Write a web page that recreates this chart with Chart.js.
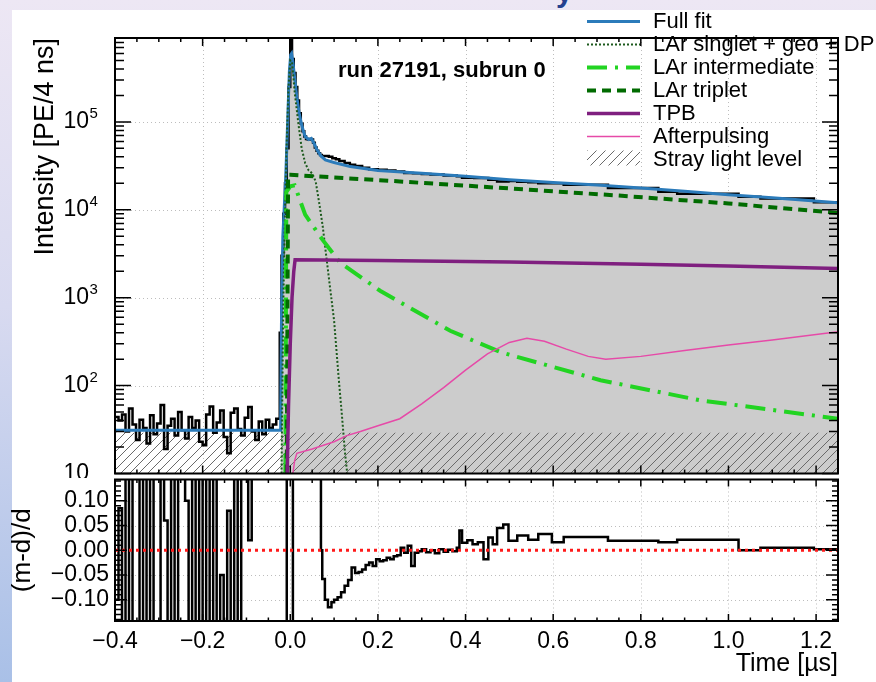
<!DOCTYPE html>
<html>
<head>
<meta charset="utf-8">
<script src="https://cdn.jsdelivr.net/npm/chart.js@4.4.1/dist/chart.umd.min.js"></script>
<style>
  body { margin: 0; }
  #page { position: relative; width: 876px; height: 682px; overflow: hidden;
    background: linear-gradient(180deg, #ede7f4 0%, #d8daf0 45%, #a9c0e7 100%); }
  #slideTitle { position: absolute; left: 556px; top: -25px; font: bold 30px "Liberation Sans", sans-serif; color: #25418f; }
  #sheet { position: absolute; left: 12px; top: 10px; right: 0; bottom: 0; background: #fff; }
  canvas { position: absolute; left: 0; }
</style>
</head>
<body>
<div id="page">
  <div id="slideTitle">y</div>
  <div id="sheet"></div>
  <canvas id="mainChart" width="876" height="478" style="top:0"></canvas>
  <canvas id="ratioChart" width="876" height="204" style="top:478px"></canvas>
</div>
<script>
// time in microseconds, intensity in PE / 4 ns

// pre-trigger data, uniform bins
const noiseStart = -0.4;
const noiseBin = 0.008;
const noiseCounts = [44, 40, 47, 30, 55, 36, 24, 41, 33, 22, 46, 28, 37, 60, 19, 35, 42, 27, 50, 31, 25, 44, 33, 40,
  23, 21, 47, 58, 29, 38, 52, 26, 17, 49, 55, 32, 27, 43, 57, 30, 24, 39, 28, 41, 33, 36, 42];

// data after the trigger (bin left edges)
const peakTimes = [-0.024, -0.02, -0.016, -0.012, -0.008, -0.004, 0.0, 0.004, 0.008, 0.012, 0.016, 0.02, 0.024, 0.028,
  0.032, 0.036, 0.04, 0.044, 0.048, 0.052, 0.056, 0.06, 0.064, 0.068, 0.072, 0.08, 0.088, 0.096, 0.104, 0.112, 0.124,
  0.136, 0.148, 0.164, 0.18, 0.2, 0.22, 0.24, 0.26, 0.28, 0.3, 0.32, 0.35, 0.38, 0.392, 0.42, 0.441, 0.452, 0.472,
  0.498, 0.518, 0.543, 0.566, 0.597, 0.624, 0.725, 0.84, 0.883, 1.023, 1.073, 1.195];
const peakCounts = [400, 3000, 9000, 2e4, 5e4, 2.5e5, 1e6, 5.2e5, 3.6e5, 2.5e5, 1.75e5, 1.25e5, 9.5e4, 7.8e4,
  6.8e4, 6.4e4, 6.3e4, 6.4e4, 6.3e4, 5.8e4, 5.1e4, 4.7e4, 4.4e4, 4.2e4, 4.1e4, 4.1e4, 4.0e4, 3.85e4, 3.75e4, 3.6e4, 3.4e4,
  3.25e4, 3.15e4, 3.0e4, 2.9e4, 2.85e4, 2.8e4, 2.72e4, 2.62e4, 2.6e4, 2.55e4, 2.52e4, 2.45e4, 2.4e4, 2.32e4, 2.3e4,
  2.3e4, 2.2e4, 2.1e4, 2.12e4, 2.09e4, 2.06e4, 2.0e4, 2.0e4, 1.93e4, 1.77e4, 1.6e4, 1.52e4, 1.41e4, 1.34e4, 1.22e4];
const timeEnd = 1.25;

const fitTimes = [-0.4, -0.022, -0.02, -0.017, -0.014, -0.011, -0.008, -0.005, -0.002, 0.001, 0.003, 0.006, 0.009,
  0.015, 0.021, 0.027, 0.034, 0.042, 0.048, 0.055, 0.061, 0.07, 0.08, 0.1, 0.137, 0.2, 0.3, 0.4, 0.5, 0.6, 0.7, 0.8,
  0.9, 1.0, 1.1, 1.25];
const fitValues = [31, 31, 600, 5000, 1e4, 2e4, 5e4, 1.4e5, 3.8e5, 5.8e5, 6e5, 4.8e5, 3.5e5,
  1.9e5, 1.2e5, 8.8e4, 6.8e4, 6.3e4, 6.5e4, 5.6e4, 4.8e4, 4.1e4, 3.7e4, 3.45e4, 3.1e4, 2.8e4, 2.6e4, 2.4e4, 2.2e4,
  2.05e4, 1.92e4, 1.77e4, 1.62e4, 1.48e4, 1.37e4, 1.2e4];

const singletTimes = [-0.02, -0.016, -0.012, -0.008, -0.004, 0.0, 0.004, 0.01, 0.018, 0.026, 0.034, 0.042, 0.05,
  0.058, 0.066, 0.074, 0.082, 0.09, 0.1, 0.11, 0.118, 0.125, 0.13];
const singletValues = [10, 800, 1e4, 6e4, 2.5e5, 5e5, 4.8e5, 2.2e5, 1e5, 5e4, 3.4e4, 2.8e4, 2.6e4,
  2.1e4, 1.2e4, 6.5e3, 3e3, 1.4e3, 550, 130, 45, 17, 10];

const interTimes = [-0.011, -0.009, 0.0, 0.01, 0.034, 0.073, 0.114, 0.205, 0.365, 0.48, 0.708, 0.936, 1.25];
const interValues = [10, 1.6e4, 1.85e4, 1.9e4, 8.8e3, 4.6e3, 2.5e3, 1.2e3, 420, 240, 115, 68, 42];

const tripletTimes = [-0.008, -0.005, 0.0, 0.25, 0.5, 0.75, 1.0, 1.25];
const tripletValues = [10, 2.5e4, 2.5e4, 2.1e4, 1.75e4, 1.45e4, 1.18e4, 9.2e3];

const tpbTimes = [-0.007, -0.004, 0.0, 0.004, 0.008, 0.011, 0.2, 0.5, 0.8, 1.0, 1.25];
const tpbValues = [10, 60, 300, 1000, 2000, 2.7e3, 2.65e3, 2.55e3, 2.4e3, 2.3e3, 2.15e3];

const apTimes = [0.006, 0.01, 0.015, 0.05, 0.1, 0.129, 0.16, 0.2, 0.25, 0.3, 0.35, 0.4, 0.45, 0.5, 0.54, 0.58,
  0.63, 0.68, 0.72, 0.8, 0.9, 1.0, 1.1, 1.25];
const apValues = [10, 14, 17, 19, 23, 27, 30, 35, 42, 62, 95, 150, 230, 310, 345, 320,
  260, 215, 200, 215, 250, 290, 330, 410];

const strayLevel = 29;

// residuals (m-d)/d
const residNoise = [-0.1, 0.085, -0.3, 0.3, -0.3, 0.3, 0.3, -0.3, 0.3, -0.3, 0.3, -0.3, -0.3, 0.3, 0.06, -0.3,
  0.3, -0.3, 0.3, 0.3, 0.1, -0.3, 0.3, -0.3, 0.3, -0.3, 0.3, -0.3, 0.3, -0.3, -0.05, -0.3, 0.08, -0.3, 0.3, -0.3,
  0.3, 0.3, 0.02, 0.3];
const residTimes = [-0.08, -0.008, 0.006, 0.07, 0.073, 0.079, 0.086, 0.094, 0.1, 0.108, 0.116, 0.124, 0.132, 0.14,
  0.148, 0.156, 0.164, 0.172, 0.18, 0.188, 0.196, 0.204, 0.212, 0.22, 0.228, 0.236, 0.244, 0.252, 0.26, 0.268, 0.276,
  0.284, 0.292, 0.3, 0.31, 0.32, 0.33, 0.34, 0.35, 0.36, 0.37, 0.38, 0.386, 0.392, 0.404, 0.416, 0.428, 0.441, 0.452,
  0.462, 0.472, 0.486, 0.498, 0.518, 0.543, 0.566, 0.597, 0.624, 0.725, 0.84, 0.883, 1.023, 1.073, 1.195];
const residValues = [0.3, -0.3, 0.3, 0.0, -0.058, -0.1, -0.115, -0.105, -0.1, -0.095, -0.085, -0.072, -0.06, -0.035,
  -0.046, -0.044, -0.039, -0.03, -0.025, -0.032, -0.018, -0.022, -0.02, -0.015, -0.018, -0.012, -0.01, 0.005, -0.005,
  0.009, -0.032, -0.005, -0.002, 0.002, -0.004, 0.0, -0.006, 0.002, -0.003, 0.001, -0.002, 0.005, 0.04, 0.015, 0.02,
  0.012, 0.016, -0.018, 0.026, 0.012, 0.045, 0.052, 0.019, 0.03, 0.021, 0.033, 0.016, 0.027, 0.019, 0.016, 0.021,
  0.0, 0.005, 0.002];

const xTicks = [-0.4, -0.2, 0, 0.2, 0.4, 0.6, 0.8, 1.0, 1.2];
const xTickLabels = ['\u22120.4', '\u22120.2', '0.0', '0.2', '0.4', '0.6', '0.8', '1.0', '1.2'];
const yTicks = [10, 100, 1000, 10000, 100000];
const yTickExponents = ['', '2', '3', '4', '5'];
const rTicks = [-0.1, -0.05, 0, 0.05, 0.1];
const rTickLabels = ['\u22120.10', '\u22120.05', '0.00', '0.05', '0.10'];

const F = '"Liberation Sans", Arial, Helvetica, sans-serif';
Chart.defaults.font.family = F;
Chart.defaults.color = '#000';

const pts = (xs, ys) => xs.map((x, i) => ({x: x, y: ys[i]}));
const hist = (edges, vals, end) => pts(edges, vals).concat([{x: end, y: vals[vals.length - 1]}]);

const noiseEdges = noiseCounts.map((v, i) => noiseStart + i * noiseBin);
const residEdges = residNoise.map((v, i) => noiseStart + i * noiseBin);
const dataHist = hist(noiseEdges.concat(peakTimes), noiseCounts.concat(peakCounts), timeEnd);
const residHist = hist(residEdges.concat(residTimes), residNoise.concat(residValues), timeEnd);
const fitPts = pts(fitTimes, fitValues);
const grayPts = fitPts.filter(p => p.x >= -0.022);

// minor ticks
const xMinor = [];
for (let i = 0; i <= 33; i++) xMinor.push(-0.4 + i * 0.05);
const yMinor = [];
yTicks.forEach(d => { for (let k = 2; k <= 9; k++) if (d * k < 9e5) yMinor.push(d * k); });
const rMinor = [];
for (let i = -14; i <= 14; i++) rMinor.push(i / 100);

function hatchPattern() {
  const c = document.createElement('canvas');
  c.width = 9; c.height = 9;
  const g = c.getContext('2d');
  g.strokeStyle = '#6a6a6a';
  g.lineWidth = 1;
  g.beginPath();
  g.moveTo(0, 9); g.lineTo(9, 0);
  g.moveTo(-1, 1); g.lineTo(1, -1);
  g.moveTo(8, 10); g.lineTo(10, 8);
  g.stroke();
  return g.createPattern(c, 'repeat');
}
const hatch = hatchPattern();

// keep the plot frame exactly where the layout padding puts it
const fixWidth = w => s => { s.width = w; s.paddingTop = 0; s.paddingBottom = 0; };
const fixHeight = h => s => { s.height = h; s.paddingLeft = 0; s.paddingRight = 0; };

// ROOT-like frame: dotted grid, inward ticks on all sides
const rootFrame = {
  id: 'rootFrame',
  beforeDatasetsDraw(chart, args, o) {
    const {ctx, chartArea: a} = chart;
    const x = chart.scales.x, y = chart.scales.y;
    ctx.save();
    ctx.strokeStyle = '#bdbdbd';
    ctx.lineWidth = 1;
    ctx.setLineDash([1, 3]);
    ctx.beginPath();
    o.xGrid.forEach(v => { const p = Math.round(x.getPixelForValue(v)) + 0.5; ctx.moveTo(p, a.top); ctx.lineTo(p, a.bottom); });
    o.yGrid.forEach(v => { const p = Math.round(y.getPixelForValue(v)) + 0.5; ctx.moveTo(a.left, p); ctx.lineTo(a.right, p); });
    ctx.stroke();
    ctx.restore();
  },
  afterDatasetsDraw(chart, args, o) {
    const {ctx, chartArea: a} = chart;
    const x = chart.scales.x, y = chart.scales.y;
    ctx.save();
    ctx.strokeStyle = '#000';
    ctx.lineWidth = 1.5;
    ctx.beginPath();
    const xt = (list, len) => list.forEach(v => {
      const p = x.getPixelForValue(v);
      ctx.moveTo(p, a.top); ctx.lineTo(p, a.top + len);
      ctx.moveTo(p, a.bottom); ctx.lineTo(p, a.bottom - len);
    });
    const yt = (list, len) => list.forEach(v => {
      const p = y.getPixelForValue(v);
      ctx.moveTo(a.left, p); ctx.lineTo(a.left + len, p);
      ctx.moveTo(a.right, p); ctx.lineTo(a.right - len, p);
    });
    xt(xTicks, o.xMajorLen); xt(xMinor, o.xMinorLen);
    yt(o.yMajor, o.yMajorLen); yt(o.yMinor, o.yMinorLen);
    ctx.stroke();
    ctx.lineWidth = 2;
    ctx.strokeRect(a.left, a.top, a.right - a.left, a.bottom - a.top);
    ctx.restore();
  }
};

// legend, run label and 10^n labels, drawn over the top pad
const rootLegend = {
  id: 'rootLegend',
  afterDraw(chart, args, o) {
    const ctx = chart.ctx;
    const y = chart.scales.y;
    ctx.save();
    ctx.fillStyle = '#000';
    ctx.textBaseline = 'middle';
    yTicks.forEach((v, i) => {
      const p = y.getPixelForValue(v);
      ctx.font = '23px ' + F;
      ctx.textAlign = 'right';
      ctx.fillText('10', 89, p);
      if (yTickExponents[i]) {
        ctx.font = '15px ' + F;
        ctx.textAlign = 'left';
        ctx.fillText(yTickExponents[i], 89.5, p - 8);
      }
    });
    ctx.textAlign = 'left';
    ctx.textBaseline = 'alphabetic';
    ctx.font = 'bold 22px ' + F;
    ctx.fillText('run 27191, subrun 0', 338, 77);
    ctx.font = '22px ' + F;
    o.items.forEach((label, i) => {
      const ds = chart.data.datasets.find(d => d.label === label);
      const yc = 21.5 + i * 23;
      if (ds.fill) {
        ctx.fillStyle = ds.backgroundColor;
        ctx.fillRect(587, yc - 9, 53, 15);
      } else {
        ctx.beginPath();
        ctx.strokeStyle = ds.borderColor;
        ctx.lineWidth = ds.borderWidth;
        ctx.setLineDash(ds.borderDash || []);
        ctx.moveTo(587, yc); ctx.lineTo(640, yc);
        ctx.stroke();
        ctx.setLineDash([]);
      }
      ctx.fillStyle = '#000';
      ctx.fillText(label, 653, yc + 6);
    });
    ctx.restore();
  }
};

new Chart(document.getElementById('mainChart'), {
  type: 'line',
  data: {
    datasets: [
      {label: 'Afterpulsing', data: pts(apTimes, apValues), borderColor: '#e64aa8', borderWidth: 1.5, order: 1},
      {label: 'TPB', data: pts(tpbTimes, tpbValues), borderColor: '#7f1f7f', borderWidth: 3.5, order: 2},
      {label: 'LAr triplet', data: pts(tripletTimes, tripletValues), borderColor: '#006b00', borderWidth: 4,
        borderDash: [9, 6], order: 3},
      {label: 'LAr intermediate', data: pts(interTimes, interValues), borderColor: '#22d422', borderWidth: 4,
        borderDash: [20, 8, 3, 8], order: 4},
      {label: 'LAr singlet + geo + DP', data: pts(singletTimes, singletValues), borderColor: '#1d5a1d',
        borderWidth: 2, borderDash: [2, 2], order: 5},
      {label: 'Full fit', data: fitPts, borderColor: '#2b7bba', borderWidth: 3, order: 6},
      {label: 'Data', data: dataHist, borderColor: '#000', borderWidth: 2.5, stepped: true, order: 7},
      {label: 'Stray light level', data: pts([-0.4, 1.25], [strayLevel, strayLevel]), borderWidth: 0,
        borderColor: 'rgba(0,0,0,0)', backgroundColor: hatch, fill: 'start', order: 8},
      {label: 'Fit area', data: grayPts, borderWidth: 0, borderColor: 'rgba(0,0,0,0)',
        backgroundColor: '#cccccc', fill: 'start', order: 9}
    ]
  },
  options: {
    responsive: false,
    animation: false,
    devicePixelRatio: 1,
    events: [],
    layout: {padding: {left: 0, right: 38, top: 38, bottom: 4.5}},
    elements: {point: {radius: 0}, line: {tension: 0}},
    scales: {
      x: {type: 'linear', min: -0.4, max: 1.25, display: false},
      y: {
        type: 'logarithmic', min: 10, max: 9e5, position: 'left',
        afterFit: fixWidth(115),
        afterBuildTicks: s => { s.ticks = yTicks.map(v => ({value: v})); },
        grid: {display: false, drawTicks: false},
        border: {display: false},
        ticks: {display: false},
        title: {display: true, text: 'Intensity [PE/4 ns]', align: 'end', font: {size: 27},
          padding: {top: 29.8, bottom: 0}}
      }
    },
    plugins: {
      legend: {display: false},
      tooltip: {enabled: false},
      rootFrame: {xGrid: xTicks.slice(1), yGrid: yTicks.slice(1), yMajor: yTicks, yMinor: yMinor,
        xMajorLen: 8, xMinorLen: 4, yMajorLen: 16, yMinorLen: 9},
      rootLegend: {items: ['Full fit', 'LAr singlet + geo + DP', 'LAr intermediate', 'LAr triplet', 'TPB',
        'Afterpulsing', 'Stray light level']}
    }
  },
  plugins: [rootFrame, rootLegend]
});

new Chart(document.getElementById('ratioChart'), {
  type: 'line',
  data: {
    datasets: [
      {label: 'zero', data: pts([-0.4, 1.25], [0, 0]), borderColor: '#ff1a1a', borderWidth: 3,
        borderDash: [3, 4], order: 1},
      {label: '(m-d)/d', data: residHist, borderColor: '#000', borderWidth: 2.5, stepped: true, order: 2}
    ]
  },
  options: {
    responsive: false,
    animation: false,
    devicePixelRatio: 1,
    events: [],
    layout: {padding: {left: 0, right: 38, top: 1.5, bottom: 0}},
    elements: {point: {radius: 0}, line: {tension: 0}},
    scales: {
      x: {
        type: 'linear', min: -0.4, max: 1.25,
        afterFit: fixHeight(61),
        afterBuildTicks: s => { s.ticks = xTicks.map(v => ({value: v})); },
        grid: {display: false, drawTicks: false},
        border: {display: false},
        ticks: {font: {size: 23}, padding: 7, maxRotation: 0, autoSkip: false,
          callback: (v, i) => xTickLabels[i]},
        title: {display: true, text: 'Time [\u00b5s]', align: 'end', font: {size: 25},
          padding: {top: 0, bottom: 3}}
      },
      y: {
        type: 'linear', min: -0.143, max: 0.143, position: 'left',
        afterFit: fixWidth(115),
        afterBuildTicks: s => { s.ticks = rTicks.map(v => ({value: v})); },
        grid: {display: false, drawTicks: false},
        border: {display: false},
        ticks: {font: {size: 23}, padding: 6, autoSkip: false,
          callback: (v, i) => rTickLabels[i]},
        title: {display: true, text: '(m-d)/d', align: 'center', font: {size: 26},
          padding: {top: 7.5, bottom: 0}}
      }
    },
    plugins: {
      legend: {display: false},
      tooltip: {enabled: false},
      rootFrame: {xGrid: xTicks.slice(1), yGrid: [-0.1, -0.05, 0.05, 0.1], yMajor: rTicks, yMinor: rMinor,
        xMajorLen: 7, xMinorLen: 3.5, yMajorLen: 12, yMinorLen: 6}
    }
  },
  plugins: [rootFrame]
});
</script>
</body>
</html>
